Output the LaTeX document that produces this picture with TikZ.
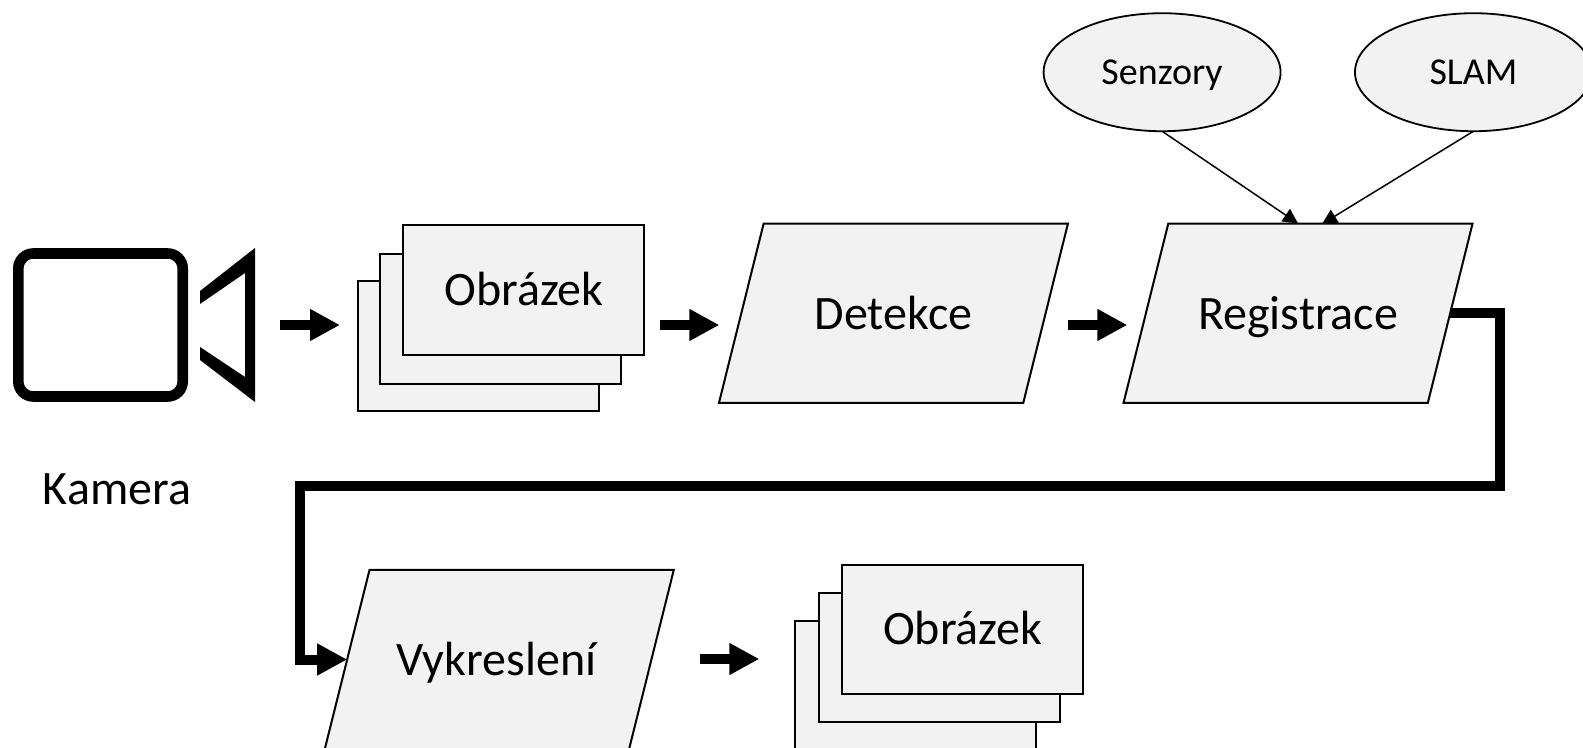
\documentclass[tikz,border=0pt]{standalone}
\usepackage{fontspec}
\setmainfont{Carlito}
\usepackage{xcolor}
\usetikzlibrary{shapes.geometric, positioning, arrows.meta, backgrounds}
\definecolor{boxfill}{HTML}{F2F2F2}
\newlength{\Unit}
\setlength\Unit{0.5pt}

\begin{document}
\begin{tikzpicture}[
    x = \Unit, y = -\Unit, align = center,
    image/.style = {
      rectangle, draw, line width = 1pt, fill = boxfill, outer sep = 0pt,
      inner sep = 0pt, minimum width = 241*\Unit, minimum height = 129.5*\Unit,
      font = \fontsize{24}{28}\selectfont, text height = 30*\Unit, text depth = 0pt
    },
    process/.style = {
      trapezium, trapezium left angle = 76, trapezium right angle = 104,
      draw, line width = 1pt, fill = boxfill, outer sep = 0pt,
      inner xsep = 0pt, inner ysep = 73.65*\Unit,
      minimum width = 349*\Unit, trapezium stretches body,
      font = \fontsize{24}{28}\selectfont, text height = 32*\Unit, text depth = 0pt
    },
    source/.style = {
      ellipse, draw, line width = 0.9pt, fill = boxfill, outer sep = 0pt,
      inner sep = 0pt, minimum width = 237*\Unit, minimum height = 118*\Unit,
      font = \fontsize{19}{23}\selectfont, text height = 24*\Unit, text depth = 0pt
    },
    camera/.style = {
      rectangle, draw, rounded corners = 7.5pt, line width = 5.3pt,
      outer sep = 0pt, inner sep = 0pt,
      minimum width = 164.4*\Unit, minimum height = 143*\Unit
    },
    caption/.style = {
      inner sep = 0pt, font = \fontsize{24}{28}\selectfont,
      text height = 30*\Unit, text depth = 0pt
    },
    flow/.style = {
      -{Triangle[length = 15pt, width = 15pt]}, line width = 5pt
    },
    sensor/.style = {
      -{Triangle[length = 7.5pt, width = 7.5pt]}, line width = 0.75pt
    },
    ]

    \useasboundingbox (0,0) rectangle (1583,748);

    % draw camera
    \node  [camera]  (cam)  at (100.5,325)  {};
    \fill  (200,291) -- (255,248) -- (255,402) -- (200,360) -- (200,347)
           -- (245,377) -- (245,273) -- (200,304) -- cycle;
    \node  [caption]  (camLabel)  [below = 78*\Unit of cam, xshift = 16.5*\Unit]  {Kamera};

    % draw first row
    \node  [image]  (imgA1)  [right = 175.1*\Unit of cam, yshift = -21*\Unit]  {};
    \node  [image]  (imgA2)  [xshift = 22.6*\Unit, yshift = 27.2*\Unit]  at (imgA1)  {};
    \node  [image]  (imgA3)  [xshift = 23*\Unit, yshift = 28.6*\Unit]  at (imgA2)  {Obrázek};
    \node  [process]  (det)  [right = 96.9*\Unit of imgA3, yshift = -23*\Unit]  {Detekce};
    \node  [process]  (reg)  [right = 100.3*\Unit of det]  {Registrace};

    % draw inputs
    \node  [source]  (sens)  [above = 92.3*\Unit of reg, xshift = -136*\Unit]  {Senzory};
    \node  [source]  (slam)  [right = 74.4*\Unit of sens]  {SLAM};

    % draw second row
    \node  [process]  (render)  at (499.3,659.5)  {Vykreslení\kern 3pt};
    \node  [image]  (imgB1)  [right = 143.8*\Unit of render, yshift = -26.2*\Unit]  {};
    \node  [image]  (imgB2)  [xshift = 23.3*\Unit, yshift = 28*\Unit]  at (imgB1)  {};
    \node  [image]  (imgB3)  [xshift = 23.8*\Unit, yshift = 28.2*\Unit]  at (imgB2)  {Obrázek};

    % free ends of the short arrows
    \coordinate  (camOut)  at (280,325);
    \coordinate  (imgAIn)  at (340,325);
    \coordinate  (imgAOut)  at (660,325);
    \coordinate  (detIn)  at (719.3,325);
    \coordinate  (detOut)  at (1068,325);
    \coordinate  (regIn)  at (1127.3,325);
    \coordinate  (renderOut)  at (700,659);
    \coordinate  (imgBIn)  at (759.3,659);
    \coordinate  (slamIn)  at (1322,224);
    \coordinate  (loopR)  at (1500,485.7);
    \coordinate  (loopL)  at (300,485.7);

    % draw paths
    \draw  [flow]  (camOut)  --  (imgAIn);
    \draw  [flow]  (imgAOut)  --  (detIn);
    \draw  [flow]  (detOut)  --  (regIn);
    \draw  [flow]  (renderOut)  --  (imgBIn);
    \draw  [flow]  (reg.east)  -|  (loopR)  --  (loopL)  |-  (render.west);

    \begin{scope}[on background layer]
    \draw  [sensor]  (sens.south)  --  (reg.north);
    \draw  [sensor]  (slam.south)  --  (slamIn);
    \end{scope}

\end{tikzpicture}
\end{document}
